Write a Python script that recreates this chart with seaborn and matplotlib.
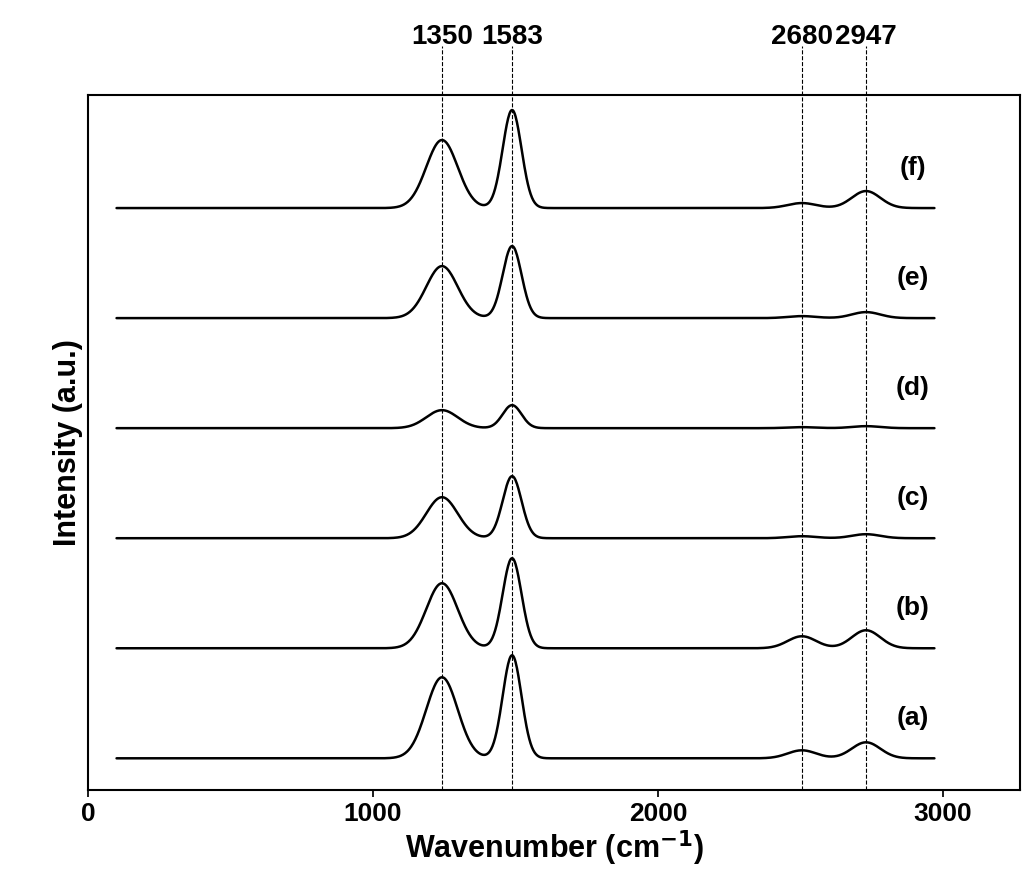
import numpy as np
import matplotlib
matplotlib.use("Agg")
import matplotlib.pyplot as plt
import seaborn as sns
import pandas as pd

sns.set_theme(style="white")
plt.rcParams['font.family'] = ['Liberation Sans', 'DejaVu Sans']
plt.rcParams['text.color'] = 'black'
plt.rcParams['axes.labelcolor'] = 'black'
plt.rcParams['xtick.color'] = 'black'

samples = ["(a)", "(b)", "(c)", "(d)", "(e)", "(f)"]
baselines = [32, 142, 252, 362, 472, 582]
peak_pos = [1242, 1488, 2505, 2730]
peak_width = [55, 33, 50, 50]
amp_D = [81, 65, 41, 18, 52, 68]
amp_G = [103, 90, 62, 23, 72, 98]
amp_2D = [8, 12, 2, 1, 2, 5]
amp_2947 = [16, 18, 4, 2, 6, 17]
peak_labels = ["1350", "1583", "2680", "2947"]
xticks = [0, 1000, 2000, 3000]

x = np.linspace(100, 2970, 1200)
rows = []
for i, s in enumerate(samples):
    amps = [amp_D[i], amp_G[i], amp_2D[i], amp_2947[i]]
    y = np.full_like(x, baselines[i], dtype=float)
    for a, p, w in zip(amps, peak_pos, peak_width):
        y += a * np.exp(-0.5 * ((x - p) / w) ** 2)
    rows.append(pd.DataFrame({"x": x, "y": y, "s": s}))
df = pd.concat(rows)

fig = plt.figure(figsize=(10.24, 8.88), dpi=100)
ax = fig.add_axes([0.086, 0.110, 0.91, 0.783])
sns.lineplot(data=df, x="x", y="y", units="s", estimator=None, color="black", lw=1.8, ax=ax)
ax.set_xlim(0, 3270)
ax.set_ylim(0, 695)
ax.set_yticks([])
ax.set_xticks(xticks)
ax.set_xticklabels([str(t) for t in xticks], fontsize=19, fontweight="bold")
for sp in ax.spines.values():
    sp.set_color("black"); sp.set_linewidth(1.5)
ax.tick_params(axis="x", direction="out", length=5, color="black", bottom=True)
ax.set_xlabel("Wavenumber (cm$^{\\mathbf{-1}}$)", fontsize=22, fontweight="bold", labelpad=2)
ax.set_ylabel("Intensity (a.u.)", fontsize=22, fontweight="bold")

for p, lab in zip(peak_pos, peak_labels):
    ax.axvline(p, ymin=0, ymax=1.07, color="black", ls="--", lw=0.8, clip_on=False)
    ax.text(p, 740, lab, ha="center", va="bottom", fontsize=20, fontweight="bold")

for s, b in zip(samples, baselines):
    ax.text(2895, b + 40, s, ha="center", va="center", fontsize=19, fontweight="bold")

fig.savefig("out.png", dpi=100)
